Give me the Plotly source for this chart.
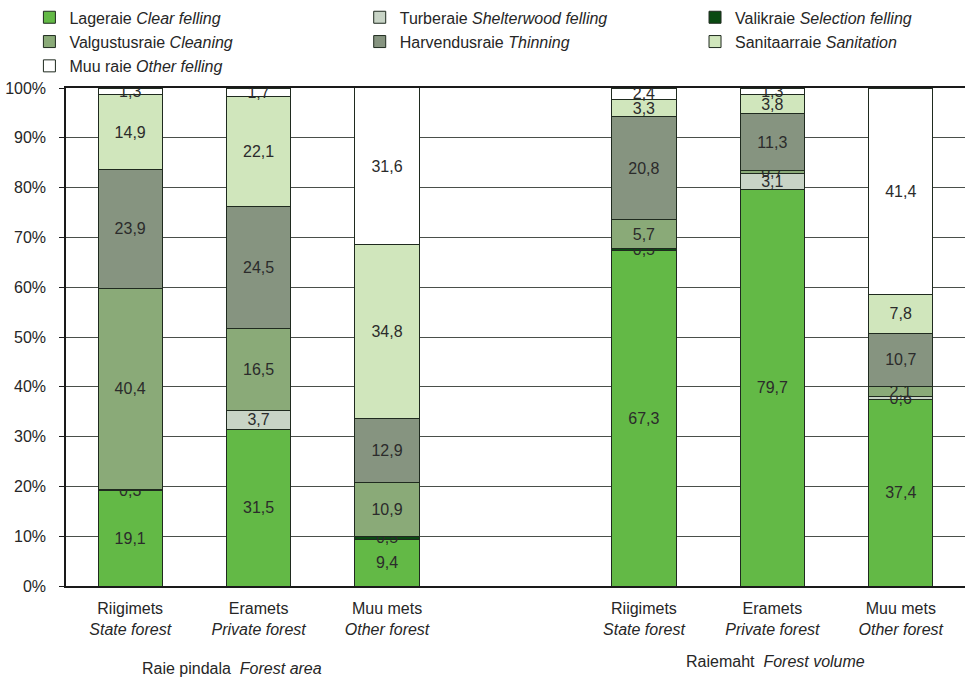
import plotly.graph_objects as go

# ---- data ----
slots = ["area_state", "area_private", "area_other", "gap", "vol_state", "vol_private", "vol_other"]
tick_labels = ["Riigimets<br><i>State forest</i>", "Eramets<br><i>Private forest</i>", "Muu mets<br><i>Other forest</i>", "",
               "Riigimets<br><i>State forest</i>", "Eramets<br><i>Private forest</i>", "Muu mets<br><i>Other forest</i>"]
y_ticks = [0, 10, 20, 30, 40, 50, 60, 70, 80, 90, 100]
y_tick_labels = ["0%", "10%", "20%", "30%", "40%", "50%", "60%", "70%", "80%", "90%", "100%"]

clear_felling = [19.1, 31.5, 9.4, None, 67.3, 79.7, 37.4]
shelterwood = [0, 3.7, 0, None, 0, 3.1, 0.6]
selection = [0.3, 0, 0.5, None, 0.5, 0, 0]
cleaning = [40.4, 16.5, 10.9, None, 5.7, 0.7, 2.1]
thinning = [23.9, 24.5, 12.9, None, 20.8, 11.3, 10.7]
sanitation = [14.9, 22.1, 34.8, None, 3.3, 3.8, 7.8]
other_felling = [1.3, 1.7, 31.6, None, 2.4, 1.3, 41.4]

series_names = [
    "Lageraie <i>Clear felling</i>",
    "Turberaie <i>Shelterwood felling</i>",
    "Valikraie <i>Selection felling</i>",
    "Valgustusraie <i>Cleaning</i>",
    "Harvendusraie <i>Thinning</i>",
    "Sanitaarraie <i>Sanitation</i>",
    "Muu raie <i>Other felling</i>",
]
series_values = [clear_felling, shelterwood, selection, cleaning, thinning, sanitation, other_felling]
series_colors = ["#63b946", "#c8d4c6", "#0a4a12", "#8aaa78", "#869480", "#d0e6bc", "#ffffff"]
series_legend = ["legend", "legend2", "legend3", "legend", "legend2", "legend3", "legend"]

group_labels = ["Raie pindala  <i>Forest area</i>", "Raiemaht  <i>Forest volume</i>"]

FONT = "Liberation Sans, Arial, sans-serif"

def fmt(v):
    if v is None or v == 0:
        return ""
    return f"{v:.1f}".replace(".", ",")

fig = go.Figure()
for i, (name, vals, col, lg) in enumerate(zip(series_names, series_values, series_colors, series_legend)):
    fig.add_trace(go.Bar(
        x=slots, y=vals, name=name, legendgroup=f"g{i}",
        marker=dict(color=col, line=dict(color="#1f2a1f", width=1)),
        text=[fmt(v) for v in vals],
        textposition="inside", insidetextanchor="middle",
        textfont=dict(family=FONT, size=16, color="#2b2b2b"),
        legend=lg, width=0.5, hoverinfo="skip",
    ))

fig.update_layout(
    template="none",
    width=965, height=681,
    margin=dict(l=66, r=0, t=88, b=95, autoexpand=False),
    barmode="stack",
    plot_bgcolor="white", paper_bgcolor="white",
    font=dict(family=FONT, size=16, color="#262626"),
    uniformtext=dict(minsize=16, mode="show"),
    showlegend=True,
)

legend_common = dict(orientation="v", xanchor="left", yanchor="top",
                     font=dict(family=FONT, size=16, color="#262626"),
                     bgcolor="rgba(0,0,0,0)", borderwidth=0,
                     traceorder="grouped", tracegroupgap=0.5)
fig.update_layout(
    legend=dict(x=-0.0407, y=1.176, **legend_common),
    legend2=dict(x=0.3267, y=1.176, **legend_common),
    legend3=dict(x=0.6997, y=1.176, **legend_common),
)

fig.update_xaxes(
    type="category", categoryorder="array", categoryarray=slots,
    tickmode="array", tickvals=slots, ticktext=tick_labels,
    range=[-0.5, 6.5], automargin=False,
    showline=True, mirror=True, linecolor="#1a1a1a", linewidth=1.5,
    showgrid=False, ticks="", tickfont=dict(size=16),
    ticklabelstandoff=7,
)
fig.update_yaxes(
    range=[0, 100], tickmode="array", tickvals=y_ticks, ticktext=y_tick_labels,
    showgrid=True, gridcolor="#4a4f4a", gridwidth=1, automargin=False,
    showline=True, linecolor="#1a1a1a", linewidth=1.5,
    ticks="outside", ticklen=5, tickcolor="#1a1a1a",
    ticklabelstandoff=10, zeroline=False, tickfont=dict(size=16),
)

fig.add_annotation(text=group_labels[0], xref="paper", yref="paper",
                   x=0.1847, y=-0.1647, xanchor="center", yanchor="middle",
                   showarrow=False, font=dict(size=16))
fig.add_annotation(text=group_labels[1], xref="paper", yref="paper",
                   x=0.7887, y=-0.1526, xanchor="center", yanchor="middle",
                   showarrow=False, font=dict(size=16))

fig.write_html("out.html", config={"displayModeBar": False},
               post_script="document.body.style.margin='0';")
